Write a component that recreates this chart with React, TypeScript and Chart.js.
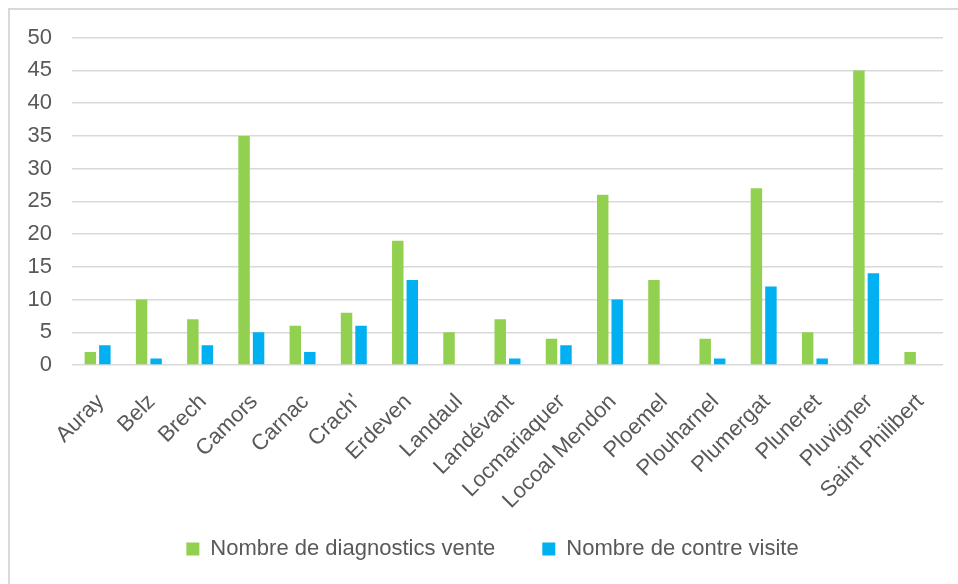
import React, { useEffect, useRef } from "react";
import { Chart, registerables } from "chart.js";

Chart.register(...registerables);

const categories = [
  "Auray", "Belz", "Brech", "Camors", "Carnac", "Crach'", "Erdeven", "Landaul",
  "Landévant", "Locmariaquer", "Locoal Mendon", "Ploemel", "Plouharnel",
  "Plumergat", "Pluneret", "Pluvigner", "Saint Philibert",
];
const seriesNames = ["Nombre de diagnostics vente", "Nombre de contre visite"];
const diagnosticsVente = [2, 10, 7, 35, 6, 8, 19, 5, 7, 4, 26, 13, 4, 27, 5, 45, 2];
const contreVisite = [3, 1, 3, 5, 2, 6, 13, 0, 1, 3, 10, 0, 1, 12, 1, 14, 0];
const yMin = 0;
const yMax = 50;
const yStep = 5;

const FONT = "'Liberation Sans', Arial, sans-serif";
const TEXT = "#595959";
const GRID = "#d9d9d9";
const LEGEND_DX = 16;
const LEGEND_DY = -19;

export default function App() {
  const ref = useRef<HTMLCanvasElement>(null);
  useEffect(() => {
    if (!ref.current) return;
    const legendShift = {
      id: "legendShift",
      afterLayout(chart: any) {
        const l = chart.legend;
        if (l) {
          l.left += LEGEND_DX;
          l.right += LEGEND_DX;
          l.top += LEGEND_DY;
          l.bottom += LEGEND_DY;
        }
      },
    };
    const chart = new Chart(ref.current, {
      type: "bar",
      data: {
        labels: categories,
        datasets: [
          {
            label: seriesNames[0],
            data: diagnosticsVente,
            backgroundColor: "#92D050",
            borderWidth: 0,
            categoryPercentage: 0.566,
            barPercentage: 0.79,
          },
          {
            label: seriesNames[1],
            data: contreVisite,
            backgroundColor: "#00B0F0",
            borderWidth: 0,
            categoryPercentage: 0.566,
            barPercentage: 0.79,
          },
        ],
      },
      options: {
        responsive: false,
        animation: false,
        layout: { padding: { top: 27.7, right: 7, left: 0, bottom: -13 } },
        plugins: {
          tooltip: { enabled: false },
          legend: {
            position: "bottom",
            labels: {
              boxWidth: 13,
              boxHeight: 13,
              padding: 47,
              color: TEXT,
              font: { family: FONT, size: 22 },
            },
          },
        },
        scales: {
          x: {
            grid: { display: false, drawTicks: false },
            border: { display: false },
            ticks: {
              autoSkip: false,
              maxRotation: 45,
              minRotation: 45,
              padding: 24,
              labelOffset: 3,
              color: TEXT,
              font: { family: FONT, size: 22 },
            },
            afterFit(scale: any) {
              scale.height = 145;
              scale.paddingLeft = 0;
              scale.paddingRight = 0;
            },
          },
          y: {
            min: yMin,
            max: yMax,
            grid: { color: GRID, lineWidth: 1.5, drawTicks: false },
            border: { display: false },
            ticks: {
              stepSize: yStep,
              padding: 20,
              color: TEXT,
              font: { family: FONT, size: 22 },
            },
            afterFit(scale: any) {
              scale.width = 62;
              scale.paddingTop = 13;
              scale.paddingBottom = 13;
            },
          },
        },
      },
      plugins: [legendShift],
    });
    return () => chart.destroy();
  }, []);

  return (
    <div style={{ paddingLeft: 2, paddingTop: 2 }}>
      <div
        style={{
          position: "absolute",
          left: 8,
          top: 8,
          width: 950,
          height: 2,
          background: "#d9d9d9",
        }}
      />
      <div
        style={{
          position: "absolute",
          left: 8,
          top: 8,
          width: 2,
          height: 576,
          background: "#d9d9d9",
        }}
      />
      <canvas ref={ref} width={940} height={566} style={{ display: "block", width: 940, height: 566 }} />
    </div>
  );
}
